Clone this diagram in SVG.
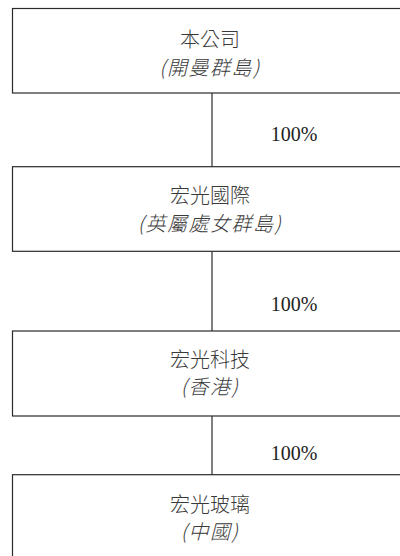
<svg xmlns="http://www.w3.org/2000/svg" width="400" height="556" viewBox="0 0 400 556">
<style>
.box{fill:#fff;stroke:#2a2a2a;stroke-width:1.2}
.t{font-family:"Noto Sans CJK TC","Noto Sans CJK SC",sans-serif;font-size:20px;fill:#3a3a3a;text-anchor:middle;font-weight:300}
.s{font-style:italic;letter-spacing:1.5px}
.p{font-family:"Liberation Serif",serif;font-size:20px;fill:#222;text-anchor:middle}
.c{stroke:#2a2a2a;stroke-width:1.2;fill:none}
</style>
<rect width="400" height="556" fill="#fff"/>
<g id="connectors">
<line class="c" x1="212" y1="93" x2="212" y2="167"/>
<line class="c" x1="212" y1="251" x2="212" y2="331"/>
<line class="c" x1="212" y1="416" x2="212" y2="475"/>
<text class="p" x="294" y="141">100%</text>
<text class="p" x="294" y="311">100%</text>
<text class="p" x="294" y="460">100%</text>
</g>
<g id="node1">
<rect class="box" x="12.5" y="8.5" width="396" height="84.5"/>
<text class="t" x="210" y="47">本公司</text>
<text class="t s" x="210" y="75">(開曼群島)</text>
</g>
<g id="node2">
<rect class="box" x="12.5" y="166.7" width="396" height="84.6"/>
<text class="t" x="210" y="203">宏光國際</text>
<text class="t s" x="210" y="231">(英屬處女群島)</text>
</g>
<g id="node3">
<rect class="box" x="12.5" y="331" width="396" height="85"/>
<text class="t" x="210" y="367">宏光科技</text>
<text class="t s" x="210" y="394">(香港)</text>
</g>
<g id="node4">
<rect class="box" x="12.5" y="474.7" width="396" height="100"/>
<text class="t" x="210" y="512">宏光玻璃</text>
<text class="t s" x="210" y="539">(中國)</text>
</g>
</svg>
